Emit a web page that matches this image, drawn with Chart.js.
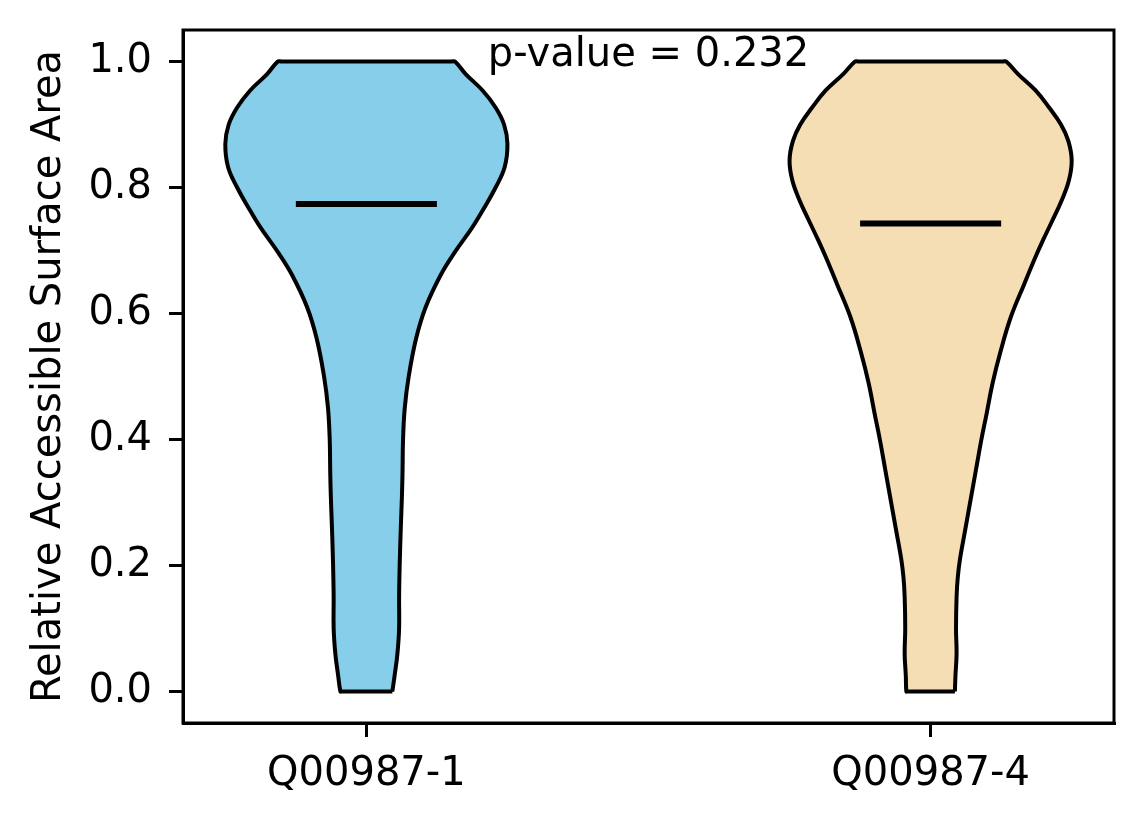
<!DOCTYPE html>
<html lang="en">
<head>
    <meta charset="UTF-8">
    <title>Relative Accessible Surface Area</title>
    <style>
        body {
            margin: 0;
            padding: 0;
            background-color: #ffffff;
        }
        #chart {
            display: block;
        }
    </style>
    <script src="https://cdn.jsdelivr.net/npm/chart.js"></script>
</head>
<body>
    <canvas id="chart" width="1144" height="824"></canvas>

    <script>
        // Categories and their positions on the x axis
        const categories = ['Q00987-1', 'Q00987-4'];
        const positions = [1, 2];

        // Violin outlines: RSA level -> half width (x units)
        const levels1 = [0, 0.025, 0.06, 0.10, 0.15, 0.20, 0.26, 0.31, 0.345, 0.40, 0.45, 0.50, 0.56, 0.61, 0.66, 0.695, 0.737, 0.768, 0.80, 0.832, 0.869, 0.90, 0.927, 0.954, 0.98, 1.0];
        const halfWidths1 = [0.046, 0.050, 0.055, 0.058, 0.058, 0.059, 0.061, 0.063, 0.064, 0.065, 0.068, 0.075, 0.088, 0.105, 0.131, 0.155, 0.188, 0.209, 0.229, 0.245, 0.250, 0.244, 0.229, 0.206, 0.176, 0.157];

        const levels2 = [0, 0.025, 0.06, 0.10, 0.15, 0.18, 0.21, 0.26, 0.31, 0.35, 0.40, 0.44, 0.49, 0.54, 0.594, 0.647, 0.69, 0.716, 0.748, 0.779, 0.811, 0.843, 0.874, 0.90, 0.927, 0.954, 0.98, 1.0];
        const halfWidths2 = [0.043, 0.044, 0.046, 0.045, 0.046, 0.048, 0.052, 0.062, 0.072, 0.080, 0.090, 0.099, 0.110, 0.124, 0.142, 0.166, 0.186, 0.199, 0.216, 0.232, 0.245, 0.250, 0.244, 0.231, 0.210, 0.186, 0.155, 0.134];

        const medians = [0.774, 0.743];
        const medianHalfLength = 0.125;

        const yTicks = [0, 0.2, 0.4, 0.6, 0.8, 1.0];
        const pValueText = 'p-value = 0.232';

        const colors = ['#87CEEB', '#F5DEB3'];

        // closed outline: right edge going up, flat top, left edge coming down, flat bottom
        function outline(pos, levels, widths) {
            const n = levels.length;
            const pts = [];
            for (let i = 0; i < n; i++) {
                pts.push({x: pos + widths[i], y: levels[i]});
            }
            // extra points on the flat ends keep the spline from bulging
            pts.push({x: pos + widths[n - 1] * 0.96, y: levels[n - 1]});
            pts.push({x: pos - widths[n - 1] * 0.96, y: levels[n - 1]});
            for (let i = n - 1; i >= 0; i--) {
                pts.push({x: pos - widths[i], y: levels[i]});
            }
            pts.push({x: pos - widths[0] * 0.96, y: levels[0]});
            pts.push({x: pos + widths[0] * 0.96, y: levels[0]});
            pts.push({x: pos + widths[0], y: levels[0]});
            return pts;
        }

        const violinData = [
            outline(positions[0], levels1, halfWidths1),
            outline(positions[1], levels2, halfWidths2)
        ];

        const datasets = [];
        // median lines first so they are drawn on top
        for (let i = 0; i < positions.length; i++) {
            datasets.push({
                data: [
                    {x: positions[i] - medianHalfLength, y: medians[i]},
                    {x: positions[i] + medianHalfLength, y: medians[i]}
                ],
                showLine: true,
                borderColor: '#000000',
                borderWidth: 6,
                borderCapStyle: 'butt',
                pointRadius: 0,
                fill: false
            });
        }
        for (let i = 0; i < positions.length; i++) {
            datasets.push({
                data: violinData[i],
                showLine: true,
                borderColor: '#000000',
                borderWidth: 4,
                borderJoinStyle: 'round',
                backgroundColor: colors[i],
                fill: 'shape',
                tension: 0.4,
                pointRadius: 0
            });
        }

        const fontSpec = {family: 'DejaVu Sans', size: 40};

        // box around the plot and the p-value note
        const framePlugin = {
            id: 'frame',
            afterDatasetsDraw(chart) {
                const ctx = chart.ctx;
                const area = chart.chartArea;
                const xs = chart.scales.x;
                const ys = chart.scales.y;
                ctx.save();
                ctx.fillStyle = '#000000';
                ctx.font = '40px "DejaVu Sans"';
                ctx.textAlign = 'center';
                ctx.textBaseline = 'alphabetic';
                ctx.fillText(pValueText, xs.getPixelForValue(1.5), ys.getPixelForValue(0.993));
                ctx.strokeStyle = '#000000';
                ctx.lineWidth = 3;
                ctx.strokeRect(area.left, area.top, area.right - area.left, area.bottom - area.top);
                ctx.restore();
            }
        };

        new Chart(document.getElementById('chart'), {
            type: 'scatter',
            data: {datasets: datasets},
            plugins: [framePlugin],
            options: {
                responsive: false,
                animation: false,
                devicePixelRatio: 1,
                layout: {
                    padding: {top: 30, right: 30, left: 0, bottom: 0}
                },
                plugins: {
                    legend: {display: false},
                    tooltip: {enabled: false}
                },
                scales: {
                    x: {
                        type: 'linear',
                        position: 'bottom',
                        min: 0.675,
                        max: 2.325,
                        afterBuildTicks: function(scale) {
                            scale.ticks = positions.map(v => ({value: v}));
                        },
                        afterFit: function(scale) {
                            scale.height = 101;
                            scale.paddingLeft = 0;
                            scale.paddingRight = 0;
                        },
                        ticks: {
                            color: '#000000',
                            font: fontSpec,
                            padding: 14,
                            maxRotation: 0,
                            callback: function(value) {
                                const idx = positions.indexOf(value);
                                return idx >= 0 ? categories[idx] : '';
                            }
                        },
                        grid: {
                            drawOnChartArea: false,
                            drawTicks: true,
                            tickLength: 14,
                            lineWidth: 3,
                            color: '#000000'
                        },
                        border: {display: true, color: '#000000', width: 3}
                    },
                    y: {
                        type: 'linear',
                        min: -0.05,
                        max: 1.05,
                        afterBuildTicks: function(scale) {
                            scale.ticks = yTicks.map(v => ({value: v}));
                        },
                        afterFit: function(scale) {
                            scale.width = 183;
                            scale.paddingTop = 0;
                            scale.paddingBottom = 0;
                        },
                        ticks: {
                            color: '#000000',
                            font: fontSpec,
                            padding: 17,
                            callback: function(value) {
                                return value.toFixed(1);
                            }
                        },
                        grid: {
                            drawOnChartArea: false,
                            drawTicks: true,
                            tickLength: 14,
                            lineWidth: 3,
                            color: '#000000'
                        },
                        border: {display: true, color: '#000000', width: 3},
                        title: {
                            display: true,
                            text: 'Relative Accessible Surface Area',
                            color: '#000000',
                            font: fontSpec,
                            padding: {top: 26, bottom: 0}
                        }
                    }
                }
            }
        });
    </script>
</body>
</html>
